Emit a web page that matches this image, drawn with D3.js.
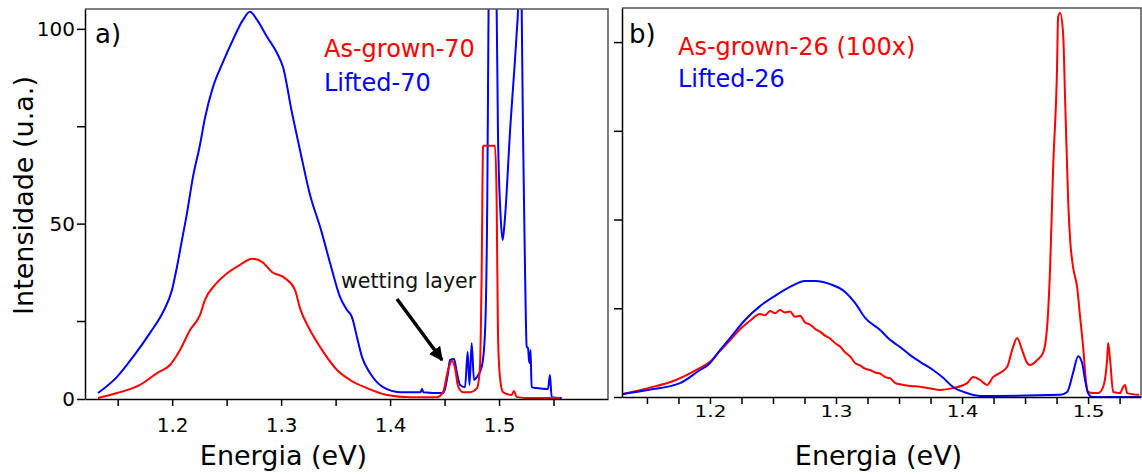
<!DOCTYPE html>
<html>
<head>
<meta charset="utf-8">
<script src="https://cdn.jsdelivr.net/npm/d3@7"></script>
<style>
  html, body { margin: 0; padding: 0; background: #fff; }
  svg { display: block; font-family: "DejaVu Sans", sans-serif; }
</style>
</head>
<body>
<svg id="chart" width="1142" height="474"></svg>
<script>
// ---- Panel a: PL spectra of the 70 sample (energy in eV, intensity in u.a.) ----
const liftedA70 = [
  [1.1319, 1.9], [1.1494, 7.1], [1.1641, 13.5], [1.1797, 21.2], [1.1916, 27.3],
  [1.1999, 33.0], [1.2044, 38.9], [1.2090, 45.8], [1.2136, 52.7], [1.2191, 62.0],
  [1.2255, 70.2], [1.2301, 77.1], [1.2375, 85.1], [1.2467, 91.5], [1.2558, 97.2],
  [1.2650, 102.3], [1.2714, 104.4], [1.2779, 102.3], [1.2870, 98.0], [1.2962, 93.8],
  [1.3017, 90.2], [1.3100, 78.4], [1.3173, 68.9], [1.3265, 57.4], [1.3366, 48.4],
  [1.3449, 39.9], [1.3540, 31.2], [1.3605, 27.8], [1.3650, 26.0], [1.3696, 19.9],
  [1.3742, 13.5], [1.3816, 8.3], [1.3935, 3.8], [1.4091, 2.2], [1.4280, 2.2],
  [1.4293, 3.2], [1.4305, 2.2], [1.4486, 1.9], [1.4532, 8.3], [1.4550, 12.5],
  [1.4587, 12.8], [1.4614, 8.3], [1.4642, 4.5], [1.4688, 3.8], [1.4712, 15.1],
  [1.4729, 4.5], [1.4749, 17.9], [1.4770, 6.1], [1.4798, 7.1], [1.4843, 10.6],
  [1.4871, 21.2], [1.4892, 56.1], [1.4905, 110], [1.4926, 150], [1.4960, 110],
  [1.4978, 105], [1.4990, 73.3], [1.5015, 51.7], [1.5033, 45.8], [1.5055, 51.7],
  [1.5100, 73.3], [1.5162, 99.0], [1.5174, 105], [1.5192, 150], [1.5208, 105],
  [1.5220, 73.3], [1.5238, 38.9], [1.5254, 16.7], [1.5266, 16.3], [1.5275, 12.5],
  [1.5284, 11.5], [1.5289, 15.7], [1.5299, 3.8], [1.5345, 3.5], [1.5449, 3.2],
  [1.5467, 7.7], [1.5483, 0.6], [1.5575, 0.3]
];
const asGrownA70 = [
  [1.1319, 0.3], [1.1494, 1.9], [1.1705, 4.5], [1.1861, 8.3], [1.1980, 10.9],
  [1.2072, 15.7], [1.2164, 22.1], [1.2255, 26.5], [1.2301, 30.4], [1.2393, 34.3],
  [1.2485, 36.8], [1.2623, 39.4], [1.2733, 41.0], [1.2824, 40.2], [1.2916, 37.6],
  [1.3036, 36.0], [1.3127, 33.0], [1.3173, 28.3], [1.3265, 22.1], [1.3357, 16.7],
  [1.3513, 9.3], [1.3632, 6.1], [1.3788, 3.5], [1.3972, 1.3], [1.4183, 0.6],
  [1.4431, 0.6], [1.4486, 2.2], [1.4532, 9.3], [1.4568, 12.2], [1.4596, 9.9],
  [1.4623, 4.2], [1.4669, 2.2], [1.4733, 2.2], [1.4798, 3.5], [1.4825, 10.3],
  [1.4841, 38.9], [1.4853, 69.7], [1.4857, 70], [1.4963, 70], [1.4978, 56.1],
  [1.4990, 21.2], [1.5008, 7.1], [1.5036, 2.2], [1.5116, 1.3], [1.5137, 2.6],
  [1.5162, 0.6], [1.5284, 0.3], [1.5560, 0.3]
];

// ---- Panel b: PL spectra of the 26 sample ----
const liftedB26 = [
  [1.1310, 0.85], [1.1508, 2.0], [1.1762, 3.9], [1.1921, 7.6], [1.1984, 9.0],
  [1.2080, 13.2], [1.2159, 16.6], [1.2278, 21.7], [1.2397, 25.6], [1.2516, 28.5],
  [1.2635, 31.0], [1.2754, 32.7], [1.2834, 32.7], [1.2953, 31.8], [1.3072, 29.6],
  [1.3151, 26.5], [1.3231, 22.3], [1.3350, 18.9], [1.3429, 16.1], [1.3508, 14.1],
  [1.3588, 11.8], [1.3667, 9.9], [1.3770, 7.6], [1.3850, 5.4], [1.3929, 2.8],
  [1.4040, 1.1], [1.4143, 0.3], [1.4778, 0.6], [1.4834, 1.4], [1.4881, 6.8],
  [1.4921, 11.5], [1.4953, 9.6], [1.4976, 4.8], [1.5000, 1.1], [1.5032, 0],
  [1.5413, 0]
];
const asGrownB26 = [
  [1.1310, 0.85], [1.1508, 2.5], [1.1730, 4.8], [1.1921, 8.2], [1.2000, 9.9],
  [1.2080, 13.0], [1.2159, 16.0], [1.2238, 19.1], [1.2318, 21.5], [1.2397, 23.4],
  [1.2437, 23.0], [1.2477, 24.2], [1.2516, 23.6], [1.2556, 24.5], [1.2595, 23.8],
  [1.2635, 24.1], [1.2675, 22.6], [1.2715, 22.9], [1.2754, 21.0], [1.2794, 20.4],
  [1.2834, 19.2], [1.2873, 18.4], [1.2913, 17.3], [1.2953, 16.5], [1.2992, 15.2],
  [1.3032, 14.2], [1.3072, 12.6], [1.3112, 11.4], [1.3151, 9.6], [1.3191, 8.9],
  [1.3230, 8.0], [1.3270, 7.6], [1.3310, 6.9], [1.3350, 6.6], [1.3390, 5.6],
  [1.3429, 5.3], [1.3468, 4.0], [1.3508, 3.6], [1.3590, 3.1], [1.3667, 2.9],
  [1.3750, 2.4], [1.3826, 2.0], [1.3929, 2.5], [1.4040, 3.9], [1.4088, 5.6],
  [1.4143, 4.8], [1.4199, 3.4], [1.4246, 5.6], [1.4302, 6.8], [1.4358, 8.5],
  [1.4405, 14.1], [1.4437, 16.6], [1.4477, 13.2], [1.4516, 9.6], [1.4540, 9.0],
  [1.4596, 10.4], [1.4643, 12.4], [1.4675, 19.7], [1.4699, 36.6], [1.4723, 64.8],
  [1.4754, 93.0], [1.4762, 107.0], [1.4778, 108.2], [1.4802, 102.5], [1.4818, 83.7],
  [1.4842, 55.5], [1.4858, 44.2], [1.4881, 36.6], [1.4913, 31.0], [1.4937, 22.5],
  [1.4961, 14.1], [1.4985, 3.9], [1.5000, 1.4], [1.5040, 1.1], [1.5080, 1.1],
  [1.5119, 2.8], [1.5151, 10.4], [1.5159, 15.2], [1.5175, 10.4], [1.5199, 1.4],
  [1.5254, 1.1], [1.5278, 2.8], [1.5294, 3.4], [1.5310, 1.1], [1.5405, 0.6]
];

// ---- axis ticks and labels ----
const xTicksA = [1.15, 1.2, 1.25, 1.3, 1.35, 1.4, 1.45, 1.5, 1.55];
const xTicksB = [1.15, 1.175, 1.2, 1.225, 1.25, 1.275, 1.3, 1.325, 1.35, 1.375,
                 1.4, 1.425, 1.45, 1.475, 1.5, 1.525];
const xLabelled = [1.2, 1.3, 1.4, 1.5];
const yTicksA = [0, 25, 50, 75, 100];
const yLabelledA = [0, 50, 100];
const yTicksB = [0, 25, 50, 75, 100];

const legendA = ["As-grown-70", "Lifted-70"];
const legendB = ["As-grown-26 (100x)", "Lifted-26"];
const RED = "#ff0000", BLUE = "#0000ff";

const svg = d3.select("#chart");
svg.append("rect").attr("width", 1142).attr("height", 474).attr("fill", "#fff");

const fmt = d => (xLabelled.some(v => Math.abs(v - d) < 1e-6) ? d3.format(".1f")(d) : "");

function styleAxis(a) {
  a.select(".domain").attr("stroke", "#000").attr("stroke-width", 1.5);
  a.selectAll(".tick line").attr("stroke", "#000").attr("stroke-width", 1.5);
  a.selectAll("text").attr("font-size", 20).attr("fill", "#000")
    .attr("font-family", "DejaVu Sans, sans-serif");
}

// ---------------- Panel a ----------------
const xA = d3.scaleLinear().domain([1.12, 1.60]).range([85, 608]);
const yA = d3.scaleLinear().domain([0, 25, 105.1]).range([399, 321, 9]);

const gA = svg.append("g");
gA.append("clipPath").attr("id", "clipA")
  .append("rect").attr("x", 85).attr("y", 9).attr("width", 523).attr("height", 390);

const lineA = d3.line().x(d => xA(d[0])).y(d => yA(d[1])).curve(d3.curveMonotoneX);
gA.append("path").datum(liftedA70).attr("d", lineA)
  .attr("fill", "none").attr("stroke", BLUE).attr("stroke-width", 2)
  .attr("clip-path", "url(#clipA)");
gA.append("path").datum(asGrownA70).attr("d", lineA)
  .attr("fill", "none").attr("stroke", RED).attr("stroke-width", 2)
  .attr("clip-path", "url(#clipA)");

// frame
gA.append("path").attr("d", "M85,9H608V399").attr("fill", "none")
  .attr("stroke", "#555").attr("stroke-width", 1.5);

const axA = gA.append("g").attr("transform", "translate(0,399)")
  .call(d3.axisBottom(xA).tickValues(xTicksA).tickFormat(fmt).tickSize(7).tickPadding(12).tickSizeOuter(0));
const ayA = gA.append("g").attr("transform", "translate(85,0)")
  .call(d3.axisLeft(yA).tickValues(yTicksA)
    .tickFormat(d => yLabelledA.includes(d) ? String(d) : "")
    .tickSize(8).tickPadding(2).tickSizeOuter(0));
styleAxis(axA);
styleAxis(ayA);

gA.append("text").attr("x", 95).attr("y", 42.5).attr("font-size", 26).text("a)");
gA.append("text").attr("x", 324).attr("y", 57).attr("font-size", 24).attr("fill", RED).text(legendA[0]);
gA.append("text").attr("x", 324).attr("y", 91).attr("font-size", 24).attr("fill", BLUE).text(legendA[1]);

// wetting layer annotation
svg.append("defs").append("marker").attr("id", "arrowHead")
  .attr("viewBox", "0 0 10 10").attr("refX", 9).attr("refY", 5)
  .attr("markerWidth", 4).attr("markerHeight", 4).attr("orient", "auto")
  .append("path").attr("d", "M0,0L10,5L0,10z").attr("fill", "#000");
gA.append("text").attr("x", 341).attr("y", 288).attr("font-size", 20.5).attr("fill", "#111").text("wetting layer");
gA.append("line").attr("x1", 397).attr("y1", 299).attr("x2", 442).attr("y2", 360)
  .attr("stroke", "#000").attr("stroke-width", 3.5).attr("marker-end", "url(#arrowHead)");

// axis titles
svg.append("text").attr("transform", "translate(33,195.5) rotate(-90)")
  .attr("text-anchor", "middle").attr("font-size", 27).text("Intensidade (u.a.)");
svg.append("text").attr("x", 283.5).attr("y", 465).attr("text-anchor", "middle")
  .attr("font-size", 27).text("Energia (eV)");

// ---------------- Panel b ----------------
const xB = d3.scaleLinear().domain([1.1302, 1.542]).range([622, 1141]);
const yB = d3.scaleLinear().domain([0, 109.6]).range([397, 8]);

const gB = svg.append("g");
gB.append("clipPath").attr("id", "clipB")
  .append("rect").attr("x", 622).attr("y", 8).attr("width", 519).attr("height", 389);

const lineB = d3.line().x(d => xB(d[0])).y(d => yB(d[1])).curve(d3.curveMonotoneX);
gB.append("path").datum(asGrownB26).attr("d", lineB)
  .attr("fill", "none").attr("stroke", RED).attr("stroke-width", 2)
  .attr("clip-path", "url(#clipB)");
gB.append("path").datum(liftedB26).attr("d", lineB)
  .attr("fill", "none").attr("stroke", BLUE).attr("stroke-width", 2)
  .attr("clip-path", "url(#clipB)");

gB.append("path").attr("d", "M622,8H1141V397").attr("fill", "none")
  .attr("stroke", "#555").attr("stroke-width", 1.5);

const axB = gB.append("g").attr("transform", "translate(0,397)")
  .call(d3.axisBottom(xB).tickValues(xTicksB).tickFormat(fmt).tickSize(7).tickSizeOuter(0));
const ayB = gB.append("g").attr("transform", "translate(622,0)")
  .call(d3.axisLeft(yB).tickValues(yTicksB).tickFormat("").tickSize(8).tickSizeOuter(0));
styleAxis(axB);
styleAxis(ayB);
// panel b tick labels are vertically compressed, baseline ~19.5px under the axis
axB.selectAll(".tick text").attr("y", 0).attr("dy", 0)
  .attr("transform", "translate(0,19.5) scale(1,0.8)");

gB.append("text").attr("x", 629).attr("y", 43).attr("font-size", 26).text("b)");
gB.append("text").attr("x", 678).attr("y", 55).attr("font-size", 24).attr("fill", RED).text(legendB[0]);
gB.append("text").attr("x", 678).attr("y", 87).attr("font-size", 24).attr("fill", BLUE).text(legendB[1]);

svg.append("text").attr("x", 878.5).attr("y", 465).attr("text-anchor", "middle")
  .attr("font-size", 27).text("Energia (eV)");
</script>
</body>
</html>
